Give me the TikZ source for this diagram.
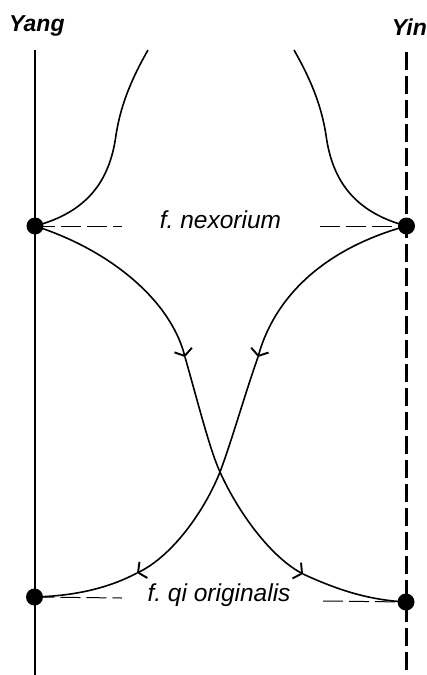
\documentclass[tikz,border=0pt]{standalone}
\usepackage{fontspec}
\setmainfont{Liberation Sans}
\usetikzlibrary{arrows.meta}
\frenchspacing
\begin{document}
\begin{tikzpicture}[x=1pt,y=-1pt,
  dot/.style={circle,fill=black,draw=none,inner sep=0pt,minimum size=17pt},
  yangaxis/.style={line width=2pt},
  yinaxis/.style={line width=2.2pt,dash pattern=on 18pt off 6pt},
  flow/.style={line width=1.6pt},
  guide/.style={line width=1pt,dash pattern=on 20pt off 6pt},
  lbl/.style={font=\itshape\fontsize{24.5}{28}\selectfont,inner sep=0pt,anchor=base},
  title/.style={font=\bfseries\itshape\fontsize{23}{27}\selectfont,inner sep=0pt},
  tip/.style={-{Straight Barb[length=6pt,width=18pt,line width=1.9pt]}}
]
\useasboundingbox (0,0) rectangle (427,675);

% axes
\coordinate (yangtop) at (35,50);
\coordinate (yangbot) at (35,675);
\coordinate (yintop) at (406.5,52);
\coordinate (yinbot) at (406.5,675);
\draw[yangaxis] (yangtop) -- (yangbot);
\draw[yinaxis] (yintop) -- (yinbot);

% dots
\node[dot] (tl) at (35,226) {};
\node[dot] (tr) at (406.5,226) {};
\node[dot] (bl) at (34.5,597) {};
\node[dot] (br) at (406,602) {};

% titles
\node[title,anchor=base west] (yang) at (9,31) {Yang};
\node[title,anchor=base east] (yin) at (427,35) {Yin};

% labels
\node[lbl] (nex) at (220.5,228) {f. nexorium};
\node[lbl] (qi) at (219,601) {f. qi originalis};

% guide dashes
\coordinate (g1) at (122,226);
\coordinate (g2) at (320,226);
\coordinate (g3) at (122,598);
\coordinate (g4) at (323,601);
\draw[guide] (tl.center) -- (g1);
\draw[guide] (g2) -- (tr.center);
\draw[guide] (bl.center) -- (g3);
\draw[guide] (g4) -- (br.center);

% upper curves
\coordinate (c1) at (148,50);
\coordinate (c2) at (294,50);
\draw[flow] (c1) .. controls (128,85) and (120,110) .. (116,135)
  .. controls (110,180) and (88,212) .. (tl.center);
\draw[flow] (c2) .. controls (314,85) and (322,110) .. (326,135)
  .. controls (332,180) and (354,212) .. (tr.center);

% crossing curves
\coordinate (a1) at (185,357);
\coordinate (a2) at (258,357);
\coordinate (x) at (220,472);
\coordinate (a3) at (137,573);
\coordinate (a4) at (303,574);

\draw[flow,tip] (tl.center) .. controls (110,250) and (170,300) .. (a1);
\draw[flow] (a1) .. controls (200,410) and (210,450) .. (x);
\draw[flow,tip] (x) .. controls (238,512) and (270,556) .. (a4);
\draw[flow] (a4) .. controls (340,591) and (370,600) .. (br.center);

\draw[flow,tip] (tr.center) .. controls (320,250) and (274,300) .. (a2);
\draw[flow] (a2) .. controls (243,400) and (232,440) .. (x);
\draw[flow,tip] (x) .. controls (204,512) and (172,556) .. (a3);
\draw[flow] (a3) .. controls (105,590) and (70,596) .. (bl.center);
\end{tikzpicture}
\end{document}
